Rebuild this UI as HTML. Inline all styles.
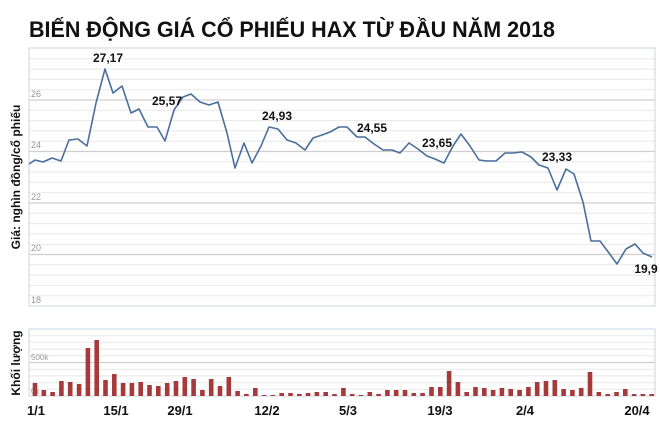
<!DOCTYPE html>
<html><head><meta charset="utf-8"><style>
html,body{margin:0;padding:0;background:#fff;}
svg{display:block;font-family:"Liberation Sans",Arial,sans-serif;}
</style></head><body>
<svg width="660" height="435" viewBox="0 0 660 435" xmlns="http://www.w3.org/2000/svg">
<text x="29" y="37" font-size="22" font-weight="bold" fill="#111" textLength="526" lengthAdjust="spacingAndGlyphs">BIẾN ĐỘNG GIÁ CỔ PHIẾU HAX TỪ ĐẦU NĂM 2018</text>
<g stroke="#e8e8e8" stroke-width="1">
<line x1="29" x2="655" y1="295.7" y2="295.7"/><line x1="29" x2="655" y1="285.4" y2="285.4"/><line x1="29" x2="655" y1="275.1" y2="275.1"/><line x1="29" x2="655" y1="264.8" y2="264.8"/>
<line x1="29" x2="655" y1="244.2" y2="244.2"/><line x1="29" x2="655" y1="233.9" y2="233.9"/><line x1="29" x2="655" y1="223.6" y2="223.6"/><line x1="29" x2="655" y1="213.3" y2="213.3"/>
<line x1="29" x2="655" y1="192.7" y2="192.7"/><line x1="29" x2="655" y1="182.4" y2="182.4"/><line x1="29" x2="655" y1="172.1" y2="172.1"/><line x1="29" x2="655" y1="161.8" y2="161.8"/>
<line x1="29" x2="655" y1="141.2" y2="141.2"/><line x1="29" x2="655" y1="130.9" y2="130.9"/><line x1="29" x2="655" y1="120.6" y2="120.6"/><line x1="29" x2="655" y1="110.3" y2="110.3"/>
<line x1="29" x2="655" y1="89.7" y2="89.7"/><line x1="29" x2="655" y1="79.4" y2="79.4"/><line x1="29" x2="655" y1="69.1" y2="69.1"/><line x1="29" x2="655" y1="58.8" y2="58.8"/>
</g>
<g stroke="#cfcfcf" stroke-width="1.3">
<line x1="29" x2="655" y1="254.5" y2="254.5"/><line x1="29" x2="655" y1="203" y2="203"/><line x1="29" x2="655" y1="151.5" y2="151.5"/><line x1="29" x2="655" y1="100" y2="100"/>
</g>
<rect x="29" y="48" width="626" height="258" fill="none" stroke="#c8d4e0" stroke-width="1"/>
<g font-size="9" fill="#999">
<text x="31" y="97">26</text><text x="31" y="148">24</text><text x="31" y="200">22</text><text x="31" y="251">20</text><text x="31" y="303">18</text>
</g>
<text transform="translate(20,177) rotate(-90)" font-size="12" font-weight="bold" fill="#111" text-anchor="middle">Giá: nghìn đồng/cổ phiếu</text>
<polyline fill="none" stroke="#4a6f9c" stroke-width="1.6" stroke-linejoin="round" points="29,164 35,160 43,162 52,158 61,161 69,140 78,139 87,146 96,103 105,69 113,93 122,86 131,113 139,109 148,127 157,127 165,141 174,110 183,97 191,94 200,102 209,105 218,102 227,133 235,168 244,143 252,163 261,146 269,127 278,129 287,140 296,143 305,150 313,138 322,135 330,132 339,127 347,127 357,137 365,137 374,144 383,150 392,150 400,153 409,143 418,149 427,156 435,159 444,163 453,146 461,134 470,146 479,160 487,161 496,161 505,153 513,153 522,152 531,157 539,165 548,168 557,190 566,169 574,174 583,202 591,241 600,241 609,253 617,264 626,249 635,244 643,253 652,257"/>
<g font-size="12" font-weight="bold" fill="#111" text-anchor="middle">
<text x="108" y="62">27,17</text><text x="167" y="105">25,57</text><text x="277" y="120">24,93</text><text x="372" y="132">24,55</text><text x="437" y="147">23,65</text><text x="557" y="161">23,33</text><text x="646" y="273">19,9</text>
</g>
<g stroke="#e8e8e8" stroke-width="1">
<line x1="29" x2="655" y1="335.7" y2="335.7"/><line x1="29" x2="655" y1="342.4" y2="342.4"/><line x1="29" x2="655" y1="349.1" y2="349.1"/><line x1="29" x2="655" y1="355.8" y2="355.8"/>
<line x1="29" x2="655" y1="369.2" y2="369.2"/><line x1="29" x2="655" y1="375.9" y2="375.9"/><line x1="29" x2="655" y1="382.6" y2="382.6"/><line x1="29" x2="655" y1="389.3" y2="389.3"/>
</g>
<line x1="29" x2="655" y1="362.5" y2="362.5" stroke="#cfcfcf" stroke-width="1.3"/>
<rect x="29" y="329" width="626" height="67" fill="none" stroke="#c8d4e0" stroke-width="1"/>
<g font-size="8" fill="#999"><text x="31" y="360">500k</text><text x="31" y="394">0k</text></g>
<text transform="translate(20,363) rotate(-90)" font-size="12" font-weight="bold" fill="#111" text-anchor="middle">Khối lượng</text>
<g fill="#a63a3a">
<rect x="32.7" y="383" width="4.6" height="13"/><rect x="41.5" y="390" width="4.6" height="6"/><rect x="50.3" y="392" width="4.6" height="4"/><rect x="59.1" y="381" width="4.6" height="15"/><rect x="67.9" y="382" width="4.6" height="14"/><rect x="76.8" y="384" width="4.6" height="12"/><rect x="85.6" y="348" width="4.6" height="48"/><rect x="94.4" y="340" width="4.6" height="56"/><rect x="103.2" y="380" width="4.6" height="16"/><rect x="112" y="374" width="4.6" height="22"/>
<rect x="120.8" y="383" width="4.6" height="13"/><rect x="129.6" y="383" width="4.6" height="13"/><rect x="138.4" y="382" width="4.6" height="14"/><rect x="147.2" y="385" width="4.6" height="11"/><rect x="156" y="386" width="4.6" height="10"/><rect x="164.9" y="383" width="4.6" height="13"/><rect x="173.7" y="381" width="4.6" height="15"/><rect x="182.5" y="377" width="4.6" height="19"/><rect x="191.3" y="379" width="4.6" height="17"/><rect x="200.1" y="390" width="4.6" height="6"/>
<rect x="208.9" y="379" width="4.6" height="17"/><rect x="217.7" y="386" width="4.6" height="10"/><rect x="226.5" y="377" width="4.6" height="19"/><rect x="235.3" y="391" width="4.6" height="5"/><rect x="244.1" y="394" width="4.6" height="2"/><rect x="253" y="388" width="4.6" height="8"/><rect x="261.8" y="395" width="4.6" height="1"/><rect x="270.6" y="395" width="4.6" height="1"/><rect x="279.4" y="393" width="4.6" height="3"/><rect x="288.2" y="393" width="4.6" height="3"/>
<rect x="297" y="394" width="4.6" height="2"/><rect x="305.8" y="393" width="4.6" height="3"/><rect x="314.6" y="392" width="4.6" height="4"/><rect x="323.4" y="392" width="4.6" height="4"/><rect x="332.2" y="394" width="4.6" height="2"/><rect x="341.1" y="388" width="4.6" height="8"/><rect x="349.9" y="394" width="4.6" height="2"/><rect x="358.7" y="395" width="4.6" height="1"/><rect x="367.5" y="392" width="4.6" height="4"/><rect x="376.3" y="394" width="4.6" height="2"/>
<rect x="385.1" y="390" width="4.6" height="6"/><rect x="393.9" y="390" width="4.6" height="6"/><rect x="402.7" y="390" width="4.6" height="6"/><rect x="411.5" y="393" width="4.6" height="3"/><rect x="420.3" y="393" width="4.6" height="3"/><rect x="429.2" y="387" width="4.6" height="9"/><rect x="438" y="387" width="4.6" height="9"/><rect x="446.8" y="371" width="4.6" height="25"/><rect x="455.6" y="382" width="4.6" height="14"/><rect x="464.4" y="392" width="4.6" height="4"/>
<rect x="473.2" y="387" width="4.6" height="9"/><rect x="482" y="388" width="4.6" height="8"/><rect x="490.8" y="390" width="4.6" height="6"/><rect x="499.6" y="388" width="4.6" height="8"/><rect x="508.4" y="389" width="4.6" height="7"/><rect x="517.3" y="390" width="4.6" height="6"/><rect x="526.1" y="387" width="4.6" height="9"/><rect x="534.9" y="382" width="4.6" height="14"/><rect x="543.7" y="381" width="4.6" height="15"/><rect x="552.5" y="380" width="4.6" height="16"/>
<rect x="561.3" y="389" width="4.6" height="7"/><rect x="570.1" y="390" width="4.6" height="6"/><rect x="578.9" y="388" width="4.6" height="8"/><rect x="587.7" y="372" width="4.6" height="24"/><rect x="596.5" y="392" width="4.6" height="4"/><rect x="605.4" y="394" width="4.6" height="2"/><rect x="614.2" y="392" width="4.6" height="4"/><rect x="623" y="389" width="4.6" height="7"/><rect x="631.8" y="394" width="4.6" height="2"/><rect x="640.6" y="394" width="4.6" height="2"/>
<rect x="649.4" y="394" width="4.6" height="2"/>
</g>
<g font-size="13" font-weight="bold" fill="#111" text-anchor="middle">
<text x="36" y="415">1/1</text><text x="116" y="415">15/1</text><text x="180" y="415">29/1</text><text x="267" y="415">12/2</text><text x="348" y="415">5/3</text><text x="440" y="415">19/3</text><text x="525" y="415">2/4</text><text x="637" y="415">20/4</text>
</g>
</svg>
</body></html>
